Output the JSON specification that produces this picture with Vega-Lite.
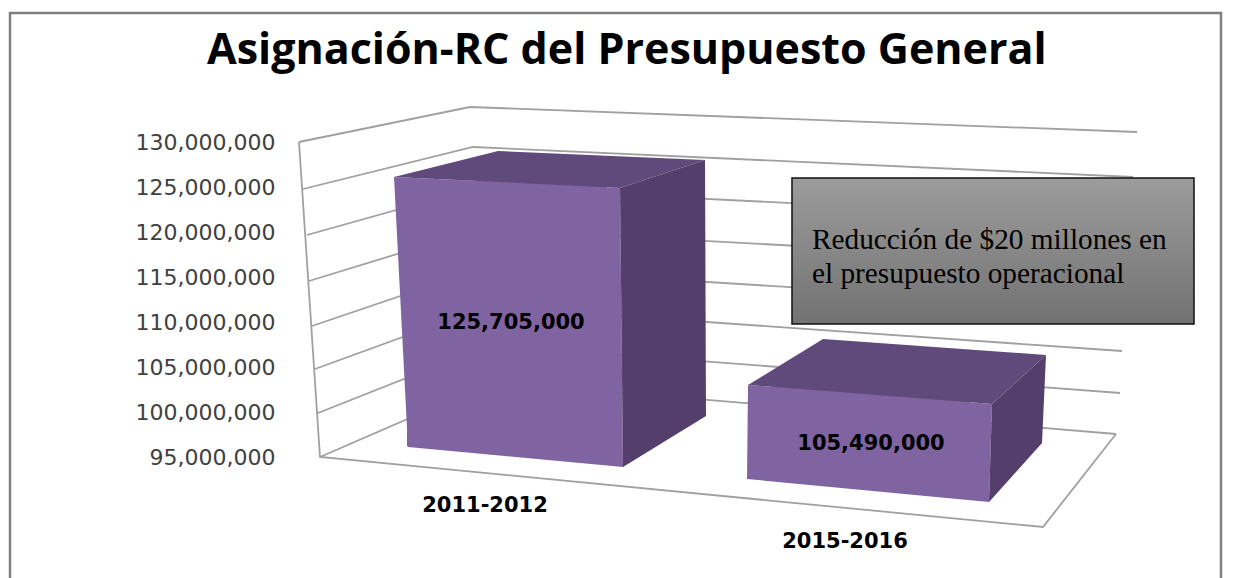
{
  "$schema": "https://vega.github.io/schema/vega-lite/v6.json",
  "autosize": {"type": "none"},
  "padding": {"left": 300, "top": 97, "right": 93, "bottom": 40},
  "width": 840,
  "height": 441,
  "background": "white",
  "config": {"view": {"stroke": null}},
  "title": {"text": "Asignación-RC del Presupuesto General", "anchor": "start", "frame": "group", "align": "left", "dx": -93, "dy": 95, "offset": 30, "font": "Open Sans", "fontWeight": 700, "fontSize": 43, "color": "#000000"},
  "data": {"values": [
    {"periodo": "2011-2012", "presupuesto": 125705000},
    {"periodo": "2015-2016", "presupuesto": 105490000}
  ]},
  "resolve": {"scale": {"x": "independent"}, "axis": {"y": "independent"}},
  "layer": [
    {
      "resolve": {"axis": {"y": "independent"}},
      "encoding": {
        "x": {"field": "periodo", "type": "nominal", "axis": null, "sort": null, "scale": {"domain": ["2011-2012", "2015-2016"], "range": [25.5, 751.5], "paddingInner": 0, "paddingOuter": 0}},
        "y": {"field": "presupuesto", "type": "quantitative", "axis": null, "scale": {"domain": [86000000, 135000000], "nice": false, "zero": false}}
      },
      "layer": [
        {
          "transform": [{"filter": "datum.periodo == '2011-2012'"}],
          "mark": {"type": "point", "filled": false, "size": 4, "opacity": 1, "stroke": "#a0a0a0", "strokeWidth": 1.8, "shape": "M-208,-315L-37,-350L630,-325M-204,-268L-34,-310L626,-280M-200,-222L-30,-269.5L624,-237M-198,-176L-27,-228.4L622,-193M-195,-131L-24,-189L619,-149M-192,-88L-21,-150.4L615,-106M-189,-44L-17,-112L613,-64M-187,0L-14,-75L609,-23M-208,-315L-187,0L536,70L609,-23"},
          "encoding": {"y": {"datum": 95000000, "axis": null}}
        },
        {
          "transform": [{"filter": "datum.periodo == '2011-2012'"}],
          "mark": {"type": "point", "filled": false, "size": 4, "opacity": 1, "stroke": "#808080", "strokeWidth": 2.5, "shape": "M-497,125L-497,-444L714,-444L714,125"},
          "encoding": {"y": {"datum": 95000000, "axis": null}}
        },
        {
          "transform": [{"filter": "datum.periodo == '2011-2012'"}],
          "mark": {"type": "bar", "width": 200, "color": "#8064A2"},
          "encoding": {
            "y": {"field": "presupuesto", "type": "quantitative", "axis": {"title": null, "values": [95000000, 100000000, 105000000, 110000000, 115000000, 120000000, 125000000, 130000000], "labelExpr": "format(datum.value, ',')", "grid": false, "ticks": false, "domain": false, "labelFont": "DejaVu Sans", "labelFontSize": 22, "labelColor": "#404040", "labelPadding": 25, "labelBaseline": "middle", "labelOverlap": false}},
            "y2": {"datum": 96200000}
          }
        },
        {
          "transform": [{"filter": "datum.periodo == '2015-2016'"}],
          "mark": {"type": "bar", "width": 200, "color": "#8064A2", "yOffset": 24},
          "encoding": {"y2": {"datum": 96200000}}
        },
        {
          "transform": [{"filter": "datum.periodo == '2011-2012'"}],
          "mark": {"type": "point", "filled": true, "size": 4, "opacity": 1, "color": "#8064A2", "shape": "M-113,-3.7L113,7.3L116,286.3L-99,266.3Z"}
        },
        {
          "transform": [{"filter": "datum.periodo == '2011-2012'"}],
          "mark": {"type": "point", "filled": true, "size": 4, "opacity": 1, "color": "#604A7B", "shape": "M-113,-3.7L113,7.3L198,-20.7L-9,-29.7Z"}
        },
        {
          "transform": [{"filter": "datum.periodo == '2011-2012'"}],
          "mark": {"type": "point", "filled": true, "size": 4, "opacity": 1, "color": "#543F6C", "shape": "M113,7.3L198,-20.7L199,235.3L116,286.3Z"}
        },
        {
          "transform": [{"filter": "datum.periodo == '2015-2016'"}],
          "mark": {"type": "point", "filled": true, "size": 4, "opacity": 1, "color": "#8064A2", "shape": "M-122,22.4L122,41.4L119,139.4L-123,116.4Z"}
        },
        {
          "transform": [{"filter": "datum.periodo == '2015-2016'"}],
          "mark": {"type": "point", "filled": true, "size": 4, "opacity": 1, "color": "#604A7B", "shape": "M-122,22.4L122,41.4L176,-7.6L-47,-23.6Z"}
        },
        {
          "transform": [{"filter": "datum.periodo == '2015-2016'"}],
          "mark": {"type": "point", "filled": true, "size": 4, "opacity": 1, "color": "#543F6C", "shape": "M122,41.4L176,-7.6L172,80.4L119,139.4Z"}
        },
        {
          "transform": [{"filter": "datum.periodo == '2011-2012'"}],
          "mark": {"type": "text", "font": "DejaVu Sans", "fontWeight": "bold", "fontSize": 21, "color": "#000000", "dx": 4, "dy": 142, "baseline": "middle"},
          "encoding": {"text": {"field": "presupuesto", "type": "quantitative", "format": ","}}
        },
        {
          "transform": [{"filter": "datum.periodo == '2015-2016'"}],
          "mark": {"type": "text", "font": "DejaVu Sans", "fontWeight": "bold", "fontSize": 21, "color": "#000000", "dx": 1, "dy": 81, "baseline": "middle"},
          "encoding": {"text": {"field": "presupuesto", "type": "quantitative", "format": ","}}
        },
        {
          "transform": [{"filter": "datum.periodo == '2011-2012'"}],
          "mark": {"type": "text", "font": "DejaVu Sans", "fontWeight": "bold", "fontSize": 21, "color": "#000000", "dx": -22, "dy": 49, "baseline": "middle"},
          "encoding": {"y": {"datum": 95000000, "axis": null}, "text": {"field": "periodo", "type": "nominal"}}
        },
        {
          "transform": [{"filter": "datum.periodo == '2015-2016'"}],
          "mark": {"type": "text", "font": "DejaVu Sans", "fontWeight": "bold", "fontSize": 21, "color": "#000000", "dx": -25, "dy": 85, "baseline": "middle"},
          "encoding": {"y": {"datum": 95000000, "axis": null}, "text": {"field": "periodo", "type": "nominal"}}
        }
      ]
    },
    {
      "data": {"values": [{"nota": "Reducción de $20 millones en el presupuesto operacional"}]},
      "layer": [
        {
          "mark": {"type": "rect", "stroke": "#111111", "strokeWidth": 1.5, "fill": {"gradient": "linear", "x1": 0, "y1": 0, "x2": 0, "y2": 1, "stops": [{"offset": 0, "color": "#9c9c9c"}, {"offset": 1, "color": "#727272"}]}},
          "encoding": {
            "x": {"datum": 0.5857, "type": "quantitative", "axis": null, "scale": {"domain": [0, 1], "nice": false, "zero": false}},
            "x2": {"datum": 1.0643},
            "y": {"datum": 126000000, "type": "quantitative", "axis": null},
            "y2": {"datum": 109780000}
          }
        },
        {
          "mark": {"type": "text", "align": "left", "baseline": "alphabetic", "font": "Liberation Serif", "fontSize": 29.3, "color": "#000000", "lineHeight": 34, "text": ["Reducción de $20 millones en", "el presupuesto operacional"]},
          "encoding": {
            "x": {"datum": 0.6095, "type": "quantitative", "axis": null, "scale": {"domain": [0, 1], "nice": false, "zero": false}},
            "y": {"datum": 118110000, "type": "quantitative", "axis": null}
          }
        }
      ]
    }
  ]
}
